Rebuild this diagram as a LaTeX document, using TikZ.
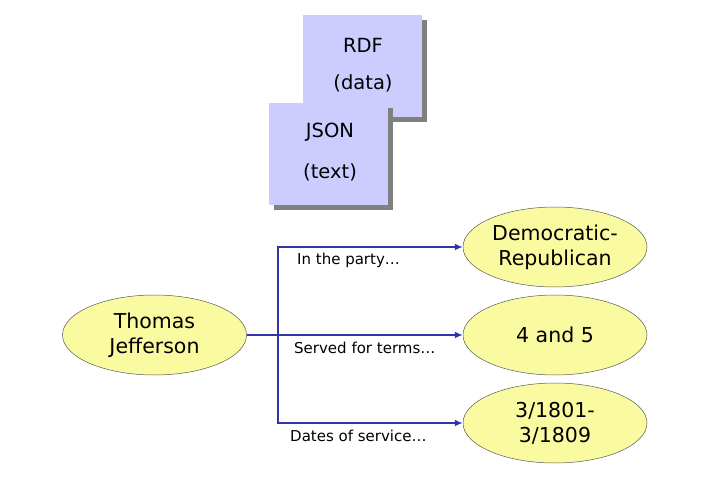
\documentclass[tikz,border=0pt]{standalone}
\usepackage{fontspec}
\setmainfont{DejaVu Sans}
\usetikzlibrary{shapes.geometric,arrows.meta}
\definecolor{boxfill}{RGB}{204,204,255}
\definecolor{ellfill}{RGB}{250,250,160}
\definecolor{linkblue}{RGB}{51,51,170}
\definecolor{shadowgray}{RGB}{128,128,128}
\newcommand{\ellip}{\char"2026}
\begin{document}
\begin{tikzpicture}[x=1pt,y=-1pt,
  docbox/.style={draw=none,fill=boxfill,minimum width=119pt,minimum height=102pt,inner sep=0pt},
  shadowbox/.style={draw=none,fill=shadowgray,minimum width=119pt,minimum height=102pt,inner sep=0pt},
  bigtext/.style={font=\fontsize{19.5}{26}\selectfont,align=center},
  ell/.style={ellipse,draw=gray!70!black,line width=0.5pt,fill=ellfill,minimum width=184pt,minimum height=80pt,inner sep=0pt,font=\fontsize{20.5}{25}\selectfont,align=center},
  link/.style={draw=linkblue,line width=1.6pt,-{Latex[length=8pt,width=7pt]}},
  lbl/.style={font=\fontsize{15}{18}\selectfont,anchor=west,inner sep=0pt}
]
\useasboundingbox (0,0) rectangle (702,479);
% RDF box
\node[shadowbox] (rdfs) at (367.5,71) {};
\node[docbox] (rdf) at (362.5,66) {};
\node[bigtext] (rdft1) at (363,45) {RDF};
\node[bigtext] (rdft2) at (363,83) {(data)};
% JSON box
\node[shadowbox] (jsons) at (333.5,159) {};
\node[docbox] (json) at (328.5,154) {};
\node[bigtext] (jsont1) at (330,132) {JSON};
\node[bigtext] (jsont2) at (330,172) {(text)};
% ellipses
\node[ell] (tj) at (154.5,335) {Thomas\\Jefferson};
\node[ell] (dr) at (555,247) {Democratic-\\Republican};
\node[ell] (t45) at (555,335) {4 and 5};
\node[ell] (dates) at (555,423) {3/1801-\\3/1809};
% connectors
\coordinate (j) at (278,335);
\draw[draw=linkblue,line width=1.6pt] (tj.east) -- (j);
\draw[link] (j) |- (dr.west);
\draw[link] (j) -- (t45.west);
\draw[link] (j) |- (dates.west);
% labels
\node[lbl] (l1) at (297,260) {In the party\ellip};
\node[lbl] (l2) at (294,348) {Served for terms\ellip};
\node[lbl] (l3) at (290,436) {Dates of service\ellip};
\end{tikzpicture}
\end{document}
